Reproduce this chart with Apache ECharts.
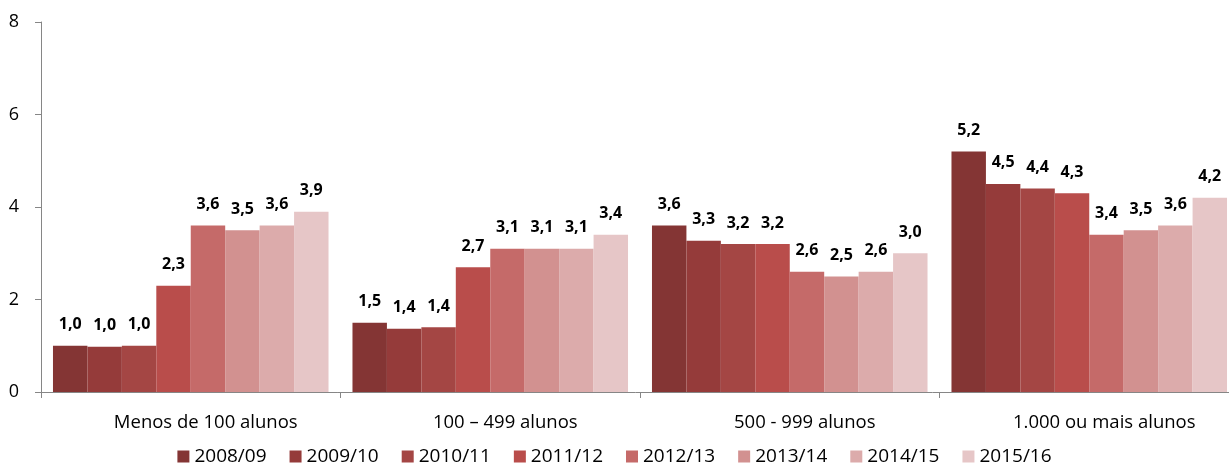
<!DOCTYPE html>
<html><head><meta charset="utf-8">
<script src="https://cdn.jsdelivr.net/npm/echarts@6/dist/echarts.min.js"></script>
<style>html,body{margin:0;padding:0;background:#fff}#c{width:1229px;height:463px}</style>
</head><body><div id="c"></div>
<script>
const categories = ['Menos de 100 alunos', '100 – 499 alunos', '500 - 999 alunos', '1.000 ou mais alunos'];
const seriesNames = ['2008/09', '2009/10', '2010/11', '2011/12', '2012/13', '2013/14', '2014/15', '2015/16'];
const s0809 = [1.0, 1.5, 3.6, 5.2];
const s0910 = [0.98, 1.37, 3.27, 4.5];
const s1011 = [1.0, 1.4, 3.2, 4.4];
const s1112 = [2.3, 2.7, 3.2, 4.3];
const s1213 = [3.6, 3.1, 2.6, 3.4];
const s1314 = [3.5, 3.1, 2.5, 3.5];
const s1415 = [3.6, 3.1, 2.6, 3.6];
const s1516 = [3.9, 3.4, 3.0, 4.2];
const yTicks = [0, 2, 4, 6, 8];
const allData = [s0809, s0910, s1011, s1112, s1213, s1314, s1415, s1516];
const colors = ['#843534', '#953b3a', '#a44644', '#b94d4b', '#c56a69', '#d29190', '#dcabab', '#e6c6c7'];
const font = '"Open Sans", "Liberation Sans", sans-serif';
const chart = echarts.init(document.getElementById('c'));
chart.setOption({
  animation: false,
  grid: {left: 41, right: -10, top: 22, bottom: 71, containLabel: false, outerBoundsMode: 'none'},
  legend: {
    bottom: -8, left: 'center', itemWidth: 12, itemHeight: 12, itemGap: 23, icon: 'rect',
    textStyle: {fontFamily: font, fontSize: 19, color: '#000'},
    data: seriesNames
  },
  xAxis: {
    type: 'category', data: categories,
    axisLine: {lineStyle: {color: '#868686'}},
    axisTick: {show: true, length: 6, lineStyle: {color: '#868686'}},
    axisLabel: {fontFamily: font, fontSize: 18.5, color: '#000', margin: 21, padding: [0, 0, 0, 30]}
  },
  yAxis: {
    type: 'value', min: yTicks[0], max: yTicks[yTicks.length - 1], interval: 2,
    axisLine: {show: true, lineStyle: {color: '#868686'}},
    axisTick: {show: true, length: 6, lineStyle: {color: '#868686'}},
    splitLine: {show: false},
    axisLabel: {fontFamily: font, fontSize: 18, color: '#000', margin: 22}
  },
  series: seriesNames.map((n, i) => ({
    name: n, type: 'bar', data: allData[i],
    barGap: '0%', barCategoryGap: '8%',
    itemStyle: {color: colors[i]},
    label: {
      show: true, position: 'top', distance: 13,
      fontFamily: font, fontSize: 16, fontWeight: 'bold', color: '#000',
      formatter: p => p.value.toFixed(1).replace('.', ',')
    }
  }))
});
</script></body></html>
